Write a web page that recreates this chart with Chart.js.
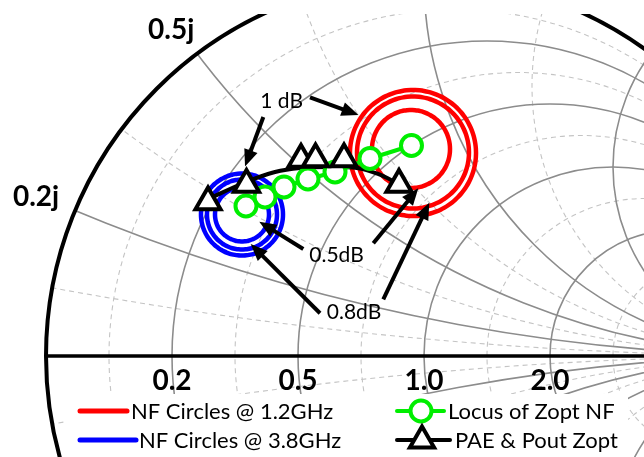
<!DOCTYPE html>
<html>
<head>
<meta charset="utf-8">
<script src="https://cdn.jsdelivr.net/npm/chart.js@4.4.1/dist/chart.umd.min.js"></script>
<style>
  html, body { margin: 0; padding: 0; background: #fff; }
  canvas { display: block; }
</style>
</head>
<body>
<canvas id="smith" width="644" height="457"></canvas>
<script>
// ---- Data, in the reflection-coefficient plane (Gamma = re + j*im) ----

// Noise-figure circles at 1.2 GHz (centre re, centre im, radius)
const nf12Re  = [-0.0291, -0.0291, -0.0344];
const nf12Im  = [0.5370, 0.5384, 0.5476];
const nf12Rad = [0.1667, 0.1481, 0.1032];

// Noise-figure circles at 3.8 GHz
const nf38Re  = [-0.4815, -0.4815, -0.4815];
const nf38Im  = [0.3743, 0.3743, 0.3743];
const nf38Rad = [0.1085, 0.0926, 0.0714];

// Locus of the optimum noise impedance
const locusRe = [-0.4709, -0.4206, -0.3704, -0.3069, -0.2354, -0.1429, -0.0331];
const locusIm = [0.3968, 0.4206, 0.4471, 0.4683, 0.4868, 0.5225, 0.5569];

// PAE & Pout optimum impedances
const zoptRe = [-0.5714, -0.4696, -0.3254, -0.2870, -0.2116, -0.0661];
const zoptIm = [0.4074, 0.4537, 0.5198, 0.5212, 0.5212, 0.4537];

// Trace joining the PAE & Pout optima
const zoptPathRe = [-0.5714, -0.4709, -0.3942, -0.3280, -0.2487, -0.1772, -0.1217, -0.0661];
const zoptPathIm = [0.4153, 0.4603, 0.4868, 0.4974, 0.5000, 0.4974, 0.4815, 0.4550];

// Smith grid values (normalised resistance / reactance)
const gridMajor = [0.2, 0.5, 1, 2, 5];
const gridMinor = [1 / 11, 1 / 3, 5 / 7, 7 / 5, 3, 11];

// Axis tick labels
const rTickValues = [0.2, 0.5, 1.0, 2.0];
const rTickLabels = ['0.2', '0.5', '1.0', '2.0'];
const xTickValues = [0.2, 0.5];
const xTickLabels = ['0.2j', '0.5j'];

// Callouts: text and anchor points
const noteText = ['1 dB', '0.5dB', '0.8dB'];
const noteRe   = [-0.3765, -0.2315, -0.1852];
const noteIm   = [0.6728, 0.2672, 0.1151];

// Callout arrows (tail -> head)
const arrowFromRe = [-0.3016, -0.4251, -0.3193, -0.1341, -0.2751, -0.1077];
const arrowFromIm = [0.6844, 0.6323, 0.2831, 0.2981, 0.1130, 0.1500];
const arrowToRe   = [-0.1733, -0.4735, -0.4357, -0.0151, -0.4585, 0.0140];
const arrowToIm   = [0.6376, 0.5013, 0.3553, 0.4437, 0.2963, 0.4056];

// ---- Layout ----
const UNIT_PX = 378;          // pixels per unit of |Gamma|
const ORIGIN_X = 424;         // pixel column of Gamma = 0
const ORIGIN_Y = 356;         // pixel row of Gamma = 0
const W = 644, H = 457, TOP = 14;
const xLabelOffset = [[-39, -14], [-26, -24]];

const COLORS = { red: '#ff0000', blue: '#0000ff', green: '#00ee00', black: '#000000' };
const FONT = 'Lato, "Open Sans", sans-serif';

// outline of a circle given its centre and radius (in Gamma units)
function ring(cx, cy, r) {
  const pts = [];
  for (let a = 0; a <= 360; a += 4) {
    const t = a * Math.PI / 180;
    pts.push({ x: cx + r * Math.cos(t), y: cy + r * Math.sin(t) });
  }
  return pts;
}
const zip = (xs, ys) => xs.map((x, i) => ({ x, y: ys[i] }));

// rings use a light tension so Chart.js draws them as smooth curves
const ringStyle = { showLine: true, borderWidth: 4.5, pointRadius: 0, tension: 0.2, order: 4 };

const datasets = [];
nf12Re.forEach((c, i) => datasets.push(Object.assign({
  label: 'NF Circles @ 1.2GHz', data: ring(c, nf12Im[i], nf12Rad[i]), borderColor: COLORS.red
}, ringStyle)));
nf38Re.forEach((c, i) => datasets.push(Object.assign({
  label: 'NF Circles @ 3.8GHz', data: ring(c, nf38Im[i], nf38Rad[i]), borderColor: COLORS.blue
}, ringStyle)));
datasets.push({
  label: 'PAE & Pout trace', data: zip(zoptPathRe, zoptPathIm),
  showLine: true, borderColor: COLORS.black, borderWidth: 4, pointRadius: 0,
  tension: 0.3, order: 3
});
datasets.push({
  label: 'Locus of Zopt NF', data: zip(locusRe, locusIm),
  showLine: true, borderColor: COLORS.green, borderWidth: 4,
  pointStyle: 'circle', pointRadius: 10.5, pointBorderWidth: 4,
  pointBorderColor: COLORS.green, pointBackgroundColor: '#ffffff', order: 2
});
datasets.push({
  label: 'PAE & Pout Zopt', data: zip(zoptRe, zoptIm),
  showLine: false, pointStyle: 'triangle', pointRadius: 14.5, pointBorderWidth: 4,
  pointBorderColor: COLORS.black, pointBackgroundColor: '#ffffff', order: 1
});

// Smith chart grid, unit circle and real axis
const smithGrid = {
  id: 'smithGrid',
  beforeDatasetsDraw(chart) {
    const { ctx, chartArea: a, scales: { x: sx, y: sy } } = chart;
    const px = v => sx.getPixelForValue(v);
    const py = v => sy.getPixelForValue(v);
    const k = px(1) - px(0);
    const ox = px(0), oy = py(0);

    ctx.save();
    ctx.beginPath();
    ctx.rect(a.left, a.top, a.right - a.left, a.bottom - a.top);
    ctx.clip();
    ctx.save();
    ctx.beginPath();
    ctx.arc(ox, oy, k, 0, Math.PI * 2);
    ctx.clip();

    const drawSet = (vals, style) => {
      ctx.strokeStyle = style.color;
      ctx.lineWidth = style.width;
      ctx.setLineDash(style.dash);
      vals.forEach(v => {
        // constant resistance circle
        ctx.beginPath();
        ctx.arc(px(v / (1 + v)), oy, k / (1 + v), 0, Math.PI * 2);
        ctx.stroke();
        // constant reactance circles (+/-)
        [1, -1].forEach(s => {
          ctx.beginPath();
          ctx.arc(px(1), py(s / v), k / v, 0, Math.PI * 2);
          ctx.stroke();
        });
      });
    };
    drawSet(gridMinor, { color: '#c4c4c4', width: 1.1, dash: [5, 4] });
    drawSet(gridMajor, { color: '#8c8c8c', width: 1.6, dash: [] });
    ctx.restore();

    ctx.setLineDash([]);
    ctx.strokeStyle = '#000';
    ctx.lineWidth = 4;
    ctx.beginPath();
    ctx.arc(ox, oy, k, 0, Math.PI * 2);
    ctx.stroke();
    ctx.lineWidth = 3.5;
    ctx.beginPath();
    ctx.moveTo(px(-1), oy);
    ctx.lineTo(a.right, oy);
    ctx.stroke();
    ctx.restore();

    // tick labels
    ctx.save();
    ctx.fillStyle = '#000';
    ctx.font = '700 28px ' + FONT;
    ctx.textAlign = 'center';
    ctx.textBaseline = 'middle';
    rTickValues.forEach((r, i) => {
      ctx.fillText(rTickLabels[i], px((r - 1) / (r + 1)), oy + 25);
    });
    xTickValues.forEach((x, i) => {
      const th = 2 * Math.atan(1 / x);
      const bx = px(Math.cos(th)), by = py(Math.sin(th));
      ctx.fillText(xTickLabels[i], bx + xLabelOffset[i][0], by + xLabelOffset[i][1]);
    });
    ctx.restore();
  }
};

// Callout arrows and their texts
const callouts = {
  id: 'callouts',
  afterDatasetsDraw(chart) {
    const { ctx, scales: { x: sx, y: sy } } = chart;
    const px = v => sx.getPixelForValue(v);
    const py = v => sy.getPixelForValue(v);
    ctx.save();
    ctx.strokeStyle = '#000';
    ctx.fillStyle = '#000';
    ctx.lineWidth = 4;
    ctx.lineCap = 'butt';
    const headLen = 17, headHalf = 7;
    arrowFromRe.forEach((_, i) => {
      const x0 = px(arrowFromRe[i]), y0 = py(arrowFromIm[i]);
      const x1 = px(arrowToRe[i]), y1 = py(arrowToIm[i]);
      const ang = Math.atan2(y1 - y0, x1 - x0);
      const bx = x1 - headLen * Math.cos(ang), by = y1 - headLen * Math.sin(ang);
      ctx.beginPath();
      ctx.moveTo(x0, y0);
      ctx.lineTo(bx + 2 * Math.cos(ang), by + 2 * Math.sin(ang));
      ctx.stroke();
      ctx.beginPath();
      ctx.moveTo(x1, y1);
      ctx.lineTo(bx - headHalf * Math.sin(ang), by + headHalf * Math.cos(ang));
      ctx.lineTo(bx + headHalf * Math.sin(ang), by - headHalf * Math.cos(ang));
      ctx.closePath();
      ctx.fill();
    });
    ctx.font = '21px ' + FONT;
    ctx.textAlign = 'center';
    ctx.textBaseline = 'middle';
    noteText.forEach((t, i) => ctx.fillText(t, px(noteRe[i]), py(noteIm[i])));
    ctx.restore();
  }
};

// Legend box below the real axis
const smithLegend = {
  id: 'smithLegend',
  afterDraw(chart) {
    const ctx = chart.ctx;
    ctx.save();
    ctx.fillStyle = '#fff';
    ctx.fillRect(66, 394, 562, H - 394);
    ctx.lineCap = 'round';
    ctx.font = '22px ' + FONT;
    ctx.textBaseline = 'middle';
    ctx.textAlign = 'left';

    const line = (x0, x1, y, color, w) => {
      ctx.strokeStyle = color; ctx.lineWidth = w;
      ctx.beginPath(); ctx.moveTo(x0, y); ctx.lineTo(x1, y); ctx.stroke();
    };
    const text = (t, x, y) => { ctx.fillStyle = '#000'; ctx.fillText(t, x, y); };

    line(80, 127, 411, COLORS.red, 5);
    text('NF Circles @ 1.2GHz', 131, 412);
    line(80, 136, 440, COLORS.blue, 5);
    text('NF Circles @ 3.8GHz', 139, 441);

    line(397, 444, 411, COLORS.green, 4);
    ctx.lineWidth = 4; ctx.strokeStyle = COLORS.green; ctx.fillStyle = '#fff';
    ctx.beginPath(); ctx.arc(421, 411, 10.5, 0, Math.PI * 2); ctx.fill(); ctx.stroke();
    text('Locus of Zopt NF', 448, 412);

    line(397, 450, 440, COLORS.black, 4);
    const r = 14, cy = 440.5, cx = 422;
    ctx.beginPath();
    for (let j = 0; j < 3; j++) {
      const t = j * 2 * Math.PI / 3;
      const vx = cx + Math.sin(t) * r, vy = cy - Math.cos(t) * r;
      j ? ctx.lineTo(vx, vy) : ctx.moveTo(vx, vy);
    }
    ctx.closePath();
    ctx.fillStyle = '#fff'; ctx.fill();
    ctx.lineJoin = 'miter'; ctx.strokeStyle = '#000'; ctx.lineWidth = 4; ctx.stroke();
    text('PAE & Pout Zopt', 455, 441);
    ctx.restore();
  }
};

new Chart(document.getElementById('smith'), {
  type: 'scatter',
  data: { datasets },
  options: {
    responsive: false,
    animation: false,
    devicePixelRatio: 1,
    layout: { autoPadding: false, padding: { top: TOP, left: 0, right: 0, bottom: 0 } },
    plugins: { legend: { display: false }, tooltip: { enabled: false } },
    scales: {
      x: { type: 'linear', display: false,
           min: -ORIGIN_X / UNIT_PX, max: (W - ORIGIN_X) / UNIT_PX },
      y: { type: 'linear', display: false,
           min: -(H - ORIGIN_Y) / UNIT_PX, max: (ORIGIN_Y - TOP) / UNIT_PX }
    }
  },
  plugins: [smithGrid, callouts, smithLegend]
});
</script>
</body>
</html>
